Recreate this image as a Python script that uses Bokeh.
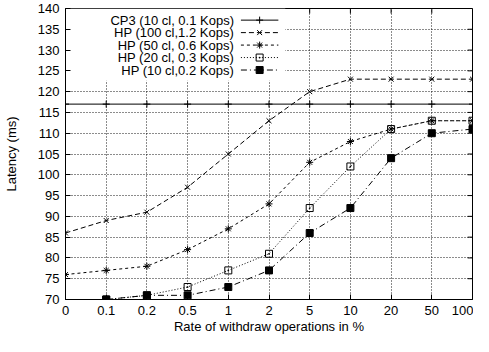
from bokeh.plotting import figure
from bokeh.models import Range1d, FixedTicker
from bokeh.embed import file_html
from bokeh.resources import INLINE
from bokeh.core.properties import value

# ---- data ----
rates = ["0", "0.1", "0.2", "0.5", "1", "2", "5", "10", "20", "50", "100"]
cp3 = [117, 117, 117, 117, 117, 117, 117, 117, 117, 117, 117]
hp100 = [86, 89, 91, 97, 105, 113, 120, 123, 123, 123, 123]
hp50 = [76, 77, 78, 82, 87, 93, 103, 108, 111, 113, 113]
hp20_rates = ["0.1", "0.2", "0.5", "1", "2", "5", "10", "20", "50", "100"]
hp20 = [70, 71, 73, 77, 81, 92, 102, 111, 113, 113]
hp10_rates = ["0.1", "0.2", "0.5", "1", "2", "5", "10", "20", "50", "100"]
hp10 = [70, 71, 71, 73, 77, 86, 92, 104, 110, 111]
y_ticks = [70, 75, 80, 85, 90, 95, 100, 105, 110, 115, 120, 125, 130, 135, 140]
labels = ["CP3 (10 cl, 0.1 Kops)", "HP (100 cl,1.2 Kops)", "HP (50 cl, 0.6 Kops)",
          "HP (20 cl, 0.3 Kops)", "HP (10 cl,0.2 Kops)"]

FONT = "Liberation Sans"
idx = {r: i for i, r in enumerate(rates)}

p = figure(width=473, height=336, output_backend="svg", toolbar_location=None,
           x_range=Range1d(0, 10), y_range=Range1d(70, 140),
           min_border_left=59, min_border_right=1, min_border_top=8, min_border_bottom=37)
p.background_fill_color = "white"
p.border_fill_color = "white"
p.outline_line_color = "black"
p.outline_line_width = 1
p.outline_line_alpha = 1

xt = FixedTicker(ticks=list(range(len(rates))))
yt = FixedTicker(ticks=y_ticks)
p.xaxis.ticker = xt
p.yaxis.ticker = yt
p.xaxis.major_label_overrides = {i: r for i, r in enumerate(rates)}
p.xgrid.ticker = xt
p.ygrid.ticker = yt
for g in (p.xgrid, p.ygrid):
    g.grid_line_color = "black"
    g.grid_line_dash = "1 2"
    g.grid_line_width = 1
    g.grid_line_alpha = 0.9

for ax in (p.xaxis, p.yaxis):
    ax.major_tick_in = 5
    ax.major_tick_out = 0
    ax.minor_tick_in = 0
    ax.minor_tick_out = 0
    ax.axis_line_color = "black"
    ax.major_tick_line_color = "black"
    ax.major_label_text_font = FONT
    ax.major_label_text_font_size = "13px"
    ax.major_label_text_color = "black"
    ax.axis_label_text_font = FONT
    ax.axis_label_text_font_size = "13px"
    ax.axis_label_text_font_style = "normal"
    ax.axis_label_text_color = "black"
p.xaxis.axis_label = "Rate of withdraw operations in %"
p.yaxis.axis_label = "Latency (ms)"
p.xaxis.major_label_standoff = 6
p.yaxis.major_label_standoff = 6
p.xaxis.axis_label_standoff = 1
p.yaxis.axis_label_standoff = 16

# mirrored ticks on top and right edges
xticks_top = list(range(len(rates)))
p.segment(x0=xticks_top, x1=xticks_top, y0=[140] * len(xticks_top), y1=[138.8] * len(xticks_top),
          line_color="black", line_width=1)
p.segment(x0=[10] * len(y_ticks), x1=[9.88] * len(y_ticks), y0=y_ticks, y1=y_ticks,
          line_color="black", line_width=1)

# legend background
p.quad(left=[0], right=[5.4], top=[140], bottom=[122.6], fill_color="white", line_color=None)

series = [
    ([idx[r] for r in rates], cp3, "solid", "cross", None),
    ([idx[r] for r in rates], hp100, "5 3", "x", None),
    ([idx[r] for r in rates], hp50, "3 3", "asterisk", None),
    ([idx[r] for r in hp20_rates], hp20, "1 2", "square_dot", None),
    ([idx[r] for r in hp10_rates], hp10, "6 3 1 3", "square", "black"),
]

for xs, ys, dash, marker, fill in series:
    p.line(xs, ys, line_color="black", line_width=1, line_dash=dash)
    p.scatter(xs, ys, marker=marker, size=7, line_color="black", line_width=1,
              fill_color=fill if fill else None)

# legend (text left, sample right)
rows = [137.2, 134.2, 131.2, 128.2, 125.2]
p.text(x=[4.14] * 5, y=rows, text=labels, text_align="right", text_baseline="middle",
       text_font=value(FONT), text_font_size="13px", text_color="black")
for (xs, ys, dash, marker, fill), ry in zip(series, rows):
    p.line([4.31, 5.23], [ry, ry], line_color="black", line_width=1, line_dash=dash)
    p.scatter([4.77], [ry], marker=marker, size=7, line_color="black", line_width=1,
              fill_color=fill if fill else None)

open("out.html", "w").write(file_html(p, INLINE))
